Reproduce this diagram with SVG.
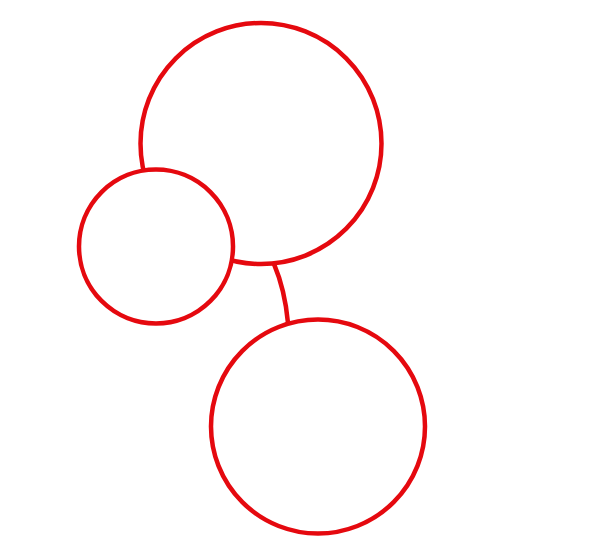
<svg xmlns="http://www.w3.org/2000/svg" width="610" height="539" viewBox="0 0 610 539">
<style>
.n{fill:#fff;stroke:#e5090f;stroke-width:4.5}
.c{fill:none;stroke:#e5090f;stroke-width:4.5}
</style>
<rect width="610" height="539" fill="#fff"/>
<g id="connectors">
<path class="c" d="M274,264 Q285,290 288,323"/>
</g>
<g id="node-top"><circle class="n" cx="261" cy="143.5" r="120.5"/></g>
<g id="node-left"><circle class="n" cx="156" cy="246.5" r="77"/></g>
<g id="node-bottom"><circle class="n" cx="318" cy="426.5" r="107"/></g>
</svg>
